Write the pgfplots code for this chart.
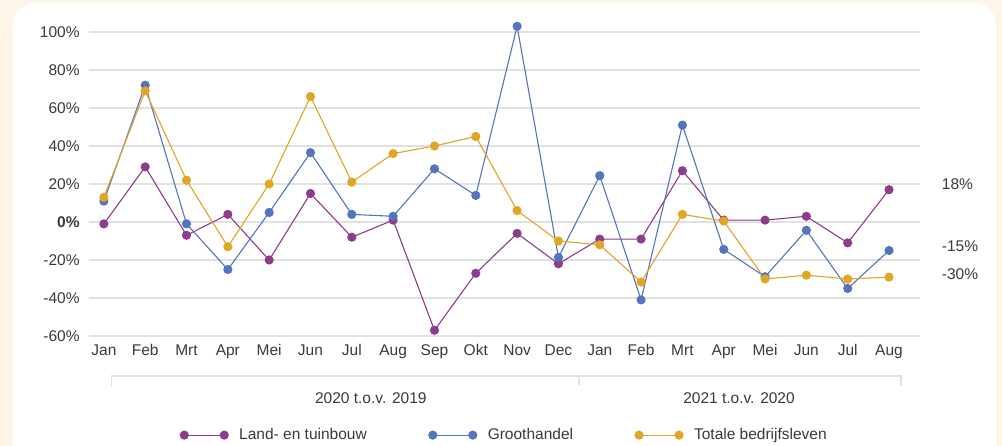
\documentclass[border=0pt]{standalone}
\usepackage{pgfplots}
\pgfplotsset{compat=1.18}
\usepackage{pgfplotstable}
\usepackage{fontspec}
\setmainfont{Liberation Sans}
\definecolor{cpurple}{HTML}{8E3D8C}
\definecolor{cblue}{HTML}{5375BC}
\definecolor{corange}{HTML}{E2A526}
\definecolor{cream}{HTML}{FDF5E7}
\definecolor{gridc}{HTML}{E1E1E1}
\definecolor{txt}{HTML}{3A3A3A}
\pgfplotstableread{
x land groot totaal
0  -1   11   13
1  29   72   69
2  -7   -1   22
3   4  -25  -13
4 -20    5   20
5  15   36.5 66
6  -8    4   21
7   1    3   36
8 -57   28   40
9 -27   14   45
10 -6  103    6
11 -22 -18.6 -10
12 -9  24.4 -12
13 -9  -41  -31.6
14 27   51    4
15  1  -14.4  0.5
16  1  -28.8 -30
17  3   -4.4 -28
18 -11 -35  -30
19 17  -15  -29
}\data
\begin{document}
\fontsize{15.5bp}{18bp}\selectfont
\begin{tikzpicture}
\useasboundingbox (0,0) rectangle (1002bp,446bp);
\fill[cream] (0,0) rectangle (1002bp,446bp);
\fill[white, rounded corners=22bp] (13bp,-40bp) rectangle (996bp,443bp);
\begin{axis}[
  at={(89bp,110bp)}, anchor=south west, scale only axis,
  width=831bp, height=304bp,
  xmin=-0.36, xmax=19.75, ymin=-60, ymax=100,
  clip=false,
  axis line style={draw=none},
  major tick length=0pt,
  ytick={-60,-40,-20,0,20,40,60,80,100},
  yticklabels={-60\%,-40\%,-20\%,\textbf{0\%},20\%,40\%,60\%,80\%,100\%},
  xtick={0,...,19},
  xticklabels={Jan,Feb,Mrt,Apr,Mei,Jun,Jul,Aug,Sep,Okt,Nov,Dec,Jan,Feb,Mrt,Apr,Mei,Jun,Jul,Aug},
  ymajorgrids, grid style={gridc, line width=1.3bp},
  tick label style={txt, font=\fontsize{15.5bp}{18bp}\selectfont},
  yticklabel style={xshift=-4bp},
  xticklabel style={yshift=-3bp},
  every axis plot/.append style={line width=1.1bp, mark=*, mark size=4bp},
  legend columns=3,
  legend image code/.code={\draw[mark repeat=2,mark phase=1,#1] plot coordinates {(0bp,0bp) (20bp,0bp) (40bp,0bp)};},
  legend style={at={(axis description cs:0.5,-0.326)}, anchor=center, draw=none, fill=none,
    font=\fontsize{15.5bp}{18bp}\selectfont\color{txt},
    /tikz/every odd column/.append style={column sep=9bp},
    /tikz/every even column/.append style={column sep=60bp}},
]
\addplot[cpurple, mark options={fill=cpurple, draw=cpurple}] table[x=x, y=land] {\data};
\addlegendentry{Land- en tuinbouw}
\addplot[cblue, mark options={fill=cblue, draw=cblue}] table[x=x, y=groot] {\data};
\addlegendentry{Groothandel}
\addplot[corange, mark options={fill=corange, draw=corange}] table[x=x, y=totaal] {\data};
\addlegendentry{Totale bedrijfsleven}
% group brackets
\draw[gridc, line width=1.3bp] (axis cs:0.19,-86.5) -- (axis cs:0.19,-81) -- (axis cs:19.29,-81) -- (axis cs:19.29,-86.5);
\draw[gridc, line width=1.3bp] (axis cs:11.5,-81) -- (axis cs:11.5,-86);
\node[txt] at (axis cs:6.46,-92.5) {2020 t.o.v. 2019};
\node[txt] at (axis cs:15.37,-92.5) {2021 t.o.v. 2020};
% end labels
\node[txt, anchor=west] at (axis cs:20.15,20) {18\%};
\node[txt, anchor=west] at (axis cs:20.15,-12.6) {-15\%};
\node[txt, anchor=west] at (axis cs:20.15,-27.4) {-30\%};
\end{axis}
\end{tikzpicture}
\end{document}
